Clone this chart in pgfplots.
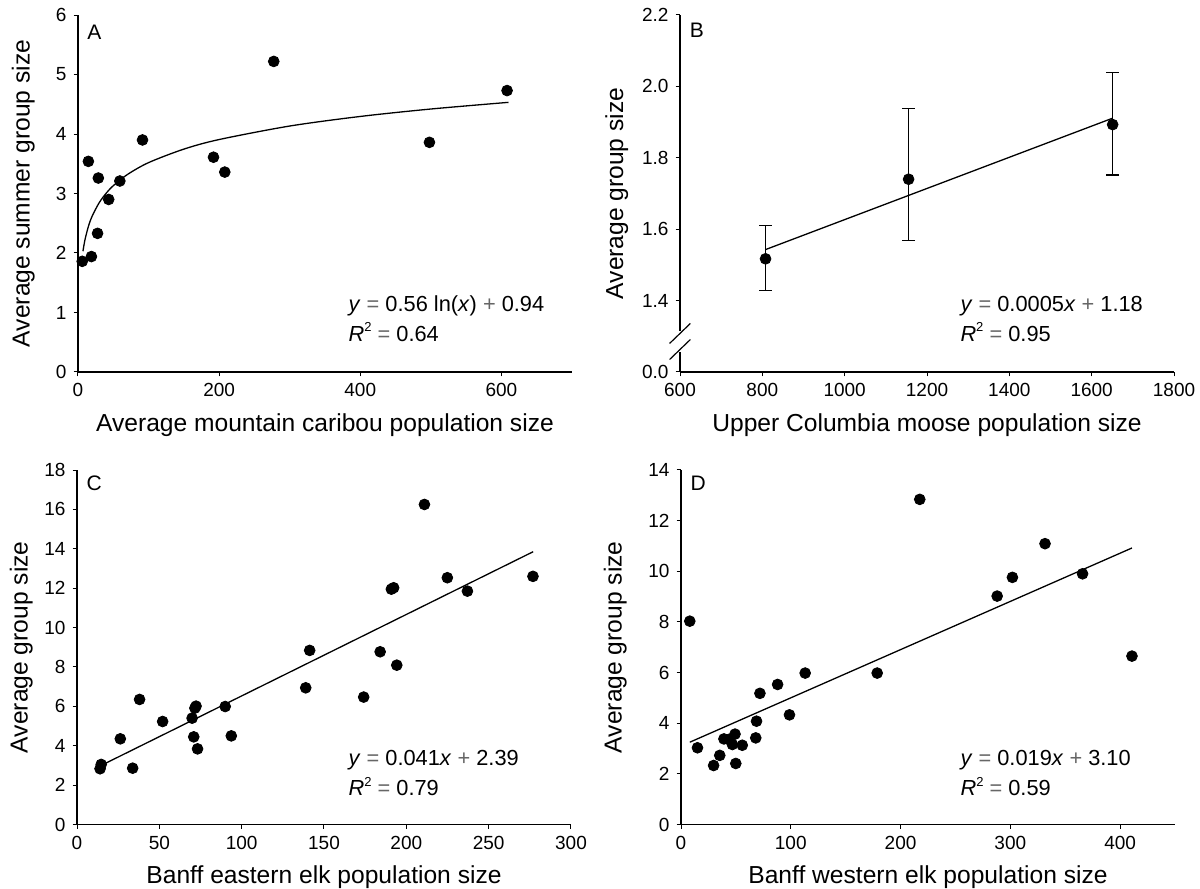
\documentclass[border=0pt]{standalone}
\usepackage{fontspec}
\setmainfont{Liberation Sans}
\usepackage{pgfplots}
\pgfplotsset{compat=1.18}

\pgfplotsset{panel/.style={
    scale only axis, width=247pt,
    enlargelimits=false, clip=false,
    axis x line*=bottom, axis y line*=left,
    tick align=outside, major tick length=2.2pt,
    every tick/.style={black, line width=0.5pt},
    axis line style={line width=0.6pt},
    tick label style={font=\fontsize{9.5}{11}\selectfont},
    label style={font=\fontsize{12.3}{14}\selectfont},
    scaled ticks=false,
    /pgf/number format/assume math mode=true,
    /pgf/number format/1000 sep={},
  },
  dots/.style={only marks, mark=*, mark size=2.7pt, black, mark options={fill=black}},
  fit/.style={no marks, black, line width=0.65pt},
}
\tikzset{
  eqn/.style={anchor=west, inner sep=0pt, align=left, font=\fontsize{10.9}{13}\selectfont},
  letter/.style={inner sep=0pt, font=\fontsize{10.5}{12}\selectfont},
}
\newcommand{\Rsq}{\textit{R}\raisebox{0.42em}{\fontsize{6.5}{7}\selectfont 2}}
\newcommand{\eq}{\textcolor{black!60}{=}}
\newcommand{\pl}{\textcolor{black!60}{+}}

\begin{document}
\begin{tikzpicture}
\useasboundingbox (0,0) rectangle (600pt,444.5pt);

% A: caribou
\begin{axis}[panel, at={(39pt,258.5pt)}, anchor=south west, height=178.5pt,
    xmin=0, xmax=700, ymin=0, ymax=6,
    xtick={0,200,400,600}, ytick={0,1,...,6},
    xlabel={Average mountain caribou population size},
    ylabel={Average summer group size},
    xlabel style={at={(axis description cs:0.5,-0.150)}, anchor=center},
    ylabel style={at={(axis description cs:-0.111,0.5)}, anchor=center}]
\addplot[dots] coordinates {
    (6,1.86) (19,1.94) (14.7,3.54) (27.7,2.33) (28.8,3.26) (43.5,2.90)
    (59.3,3.21) (91.4,3.90) (192,3.61) (208,3.36) (277.4,5.22)
    (498,3.86) (608,4.73)
};
\addplot[fit, smooth] coordinates {
    (7,2.030) (10,2.229) (15,2.457) (20,2.618) (30,2.845) (40,3.006)
    (50,3.131) (70,3.319) (100,3.519) (150,3.746) (200,3.907)
    (300,4.134) (400,4.295) (500,4.420) (610,4.532)
};
\node[letter] at (axis description cs:0.033,0.951) {A};
\node[eqn] at (axis description cs:0.547,0.185) {\textit{y} \eq{} 0.56 ln(\textit{x}) \pl{} 0.94};
\node[eqn] at (axis description cs:0.547,0.112) {\Rsq{} \eq{} 0.64};
\end{axis}

% B: moose
\begin{axis}[panel, at={(340pt,258.5pt)}, anchor=south west, height=178.5pt,
    xmin=600, xmax=1800, ymin=1.2, ymax=2.2,
    xtick={600,800,...,1800}, ytick={1.2,1.4,1.6,1.8,2.0,2.2},
    yticklabels={0.0,1.4,1.6,1.8,2.0,2.2},
    xlabel={Upper Columbia moose population size},
    ylabel={Average group size},
    xlabel style={at={(axis description cs:0.5,-0.150)}, anchor=center},
    ylabel style={at={(axis description cs:-0.128,0.5)}, anchor=center}]
\addplot[fit] coordinates {(808,1.543) (1651,1.911)};
\addplot[dots, error bars/.cd, y dir=both, y explicit,
    error bar style={line width=0.6pt},
    error mark options={rotate=90, mark size=3.2pt, line width=0.6pt}]
  coordinates {
    (807.8,1.517) += (0,0.093) -= (0,0.088)
    (1155.3,1.740) += (0,0.197) -= (0,0.172)
    (1651,1.893) += (0,0.147) -= (0,0.141)
};
\coordinate (brkhi) at (axis cs:600,1.308);
\coordinate (brklo) at (axis cs:600,1.263);
\node[letter] at (axis description cs:0.034,0.958) {B};
\node[eqn] at (axis description cs:0.567,0.185) {\textit{y} \eq{} 0.0005\textit{x} \pl{} 1.18};
\node[eqn] at (axis description cs:0.567,0.112) {\Rsq{} \eq{} 0.95};
\end{axis}
\fill[white] ([xshift=-1.5pt,yshift=1pt]brkhi) rectangle ([xshift=1.5pt,yshift=-1pt]brklo);
\draw[line width=0.6pt] ([xshift=-5.2pt,yshift=-5pt]brkhi) -- ([xshift=5.2pt,yshift=5pt]brkhi);
\draw[line width=0.6pt] ([xshift=-5.2pt,yshift=-5pt]brklo) -- ([xshift=5.2pt,yshift=5pt]brklo);

% C: eastern elk
\begin{axis}[panel, at={(38.5pt,32.25pt)}, anchor=south west, height=177.25pt,
    xmin=0, xmax=300, ymin=0, ymax=18,
    xtick={0,50,...,300}, ytick={0,2,...,18},
    xlabel={Banff eastern elk population size},
    ylabel={Average group size},
    xlabel style={at={(axis description cs:0.5,-0.148)}, anchor=center},
    ylabel style={at={(axis description cs:-0.113,0.5)}, anchor=center}]
\addplot[dots] coordinates {
    (14.0,2.83) (14.7,3.05) (26.3,4.35) (33.8,2.86) (38.0,6.35) (52.0,5.23)
    (69.9,5.40) (70.9,4.45) (71.6,5.91) (72.3,6.01) (73.2,3.84) (90.0,5.99)
    (93.7,4.50) (138.9,6.94) (141.3,8.84) (174.1,6.47) (184.1,8.77)
    (190.9,11.95) (192.3,12.02) (194.2,8.09) (211.0,16.25) (224.9,12.53)
    (237.1,11.85) (276.9,12.60)
};
\addplot[fit] coordinates {(14.7,3.00) (277,13.85)};
\node[letter] at (axis description cs:0.035,0.963) {C};
\node[eqn] at (axis description cs:0.549,0.181) {\textit{y} \eq{} 0.041\textit{x} \pl{} 2.39};
\node[eqn] at (axis description cs:0.549,0.106) {\Rsq{} \eq{} 0.79};
\end{axis}

% D: western elk
\begin{axis}[panel, at={(340.5pt,32.25pt)}, anchor=south west, height=177.25pt,
    xmin=0, xmax=450, ymin=0, ymax=14,
    xtick={0,100,...,400}, ytick={0,2,...,14},
    xlabel={Banff western elk population size},
    ylabel={Average group size},
    xlabel style={at={(axis description cs:0.5,-0.148)}, anchor=center},
    ylabel style={at={(axis description cs:-0.133,0.5)}, anchor=center}]
\addplot[dots] coordinates {
    (8.0,8.03) (15.0,3.03) (29.7,2.33) (35.3,2.73) (39.1,3.38) (43.6,3.36)
    (46.8,3.16) (49.2,3.57) (49.9,2.41) (55.8,3.13) (68.1,3.42) (68.8,4.08)
    (71.9,5.18) (88.0,5.53) (98.8,4.33) (113.1,5.98) (178.7,5.98)
    (217.5,12.84) (288.0,9.02) (301.9,9.76) (331.6,11.09) (365.8,9.90)
    (410.8,6.65)
};
\addplot[fit] coordinates {(8.0,3.25) (410.8,10.92)};
\node[letter] at (axis description cs:0.035,0.963) {D};
\node[eqn] at (axis description cs:0.565,0.181) {\textit{y} \eq{} 0.019\textit{x} \pl{} 3.10};
\node[eqn] at (axis description cs:0.565,0.106) {\Rsq{} \eq{} 0.59};
\end{axis}
\end{tikzpicture}
\end{document}
